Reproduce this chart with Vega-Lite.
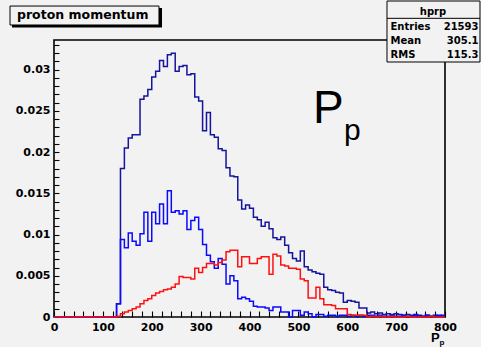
{
  "$schema": "https://vega.github.io/schema/vega-lite/v6.json",
  "width": 391,
  "height": 277,
  "autosize": "none",
  "padding": {"left": 54, "top": 40, "right": 36, "bottom": 30},
  "background": "#f2f2f2",
  "config": {
    "view": {"stroke": "#000000", "strokeWidth": 1.6, "fill": "#f2f2f2"},
    "axis": {"grid": false, "domain": false, "labelOverlap": false, "labelFlush": false, "title": null, "ticks": true, "tickColor": "#000000", "tickWidth": 1.1, "labelFont": "DejaVu Sans", "labelFontWeight": "bold", "labelFontSize": 11, "labelColor": "#000000"},
    "axisX": {"tickSize": -6, "labelPadding": 10},
    "axisY": {"tickSize": -5, "labelPadding": 9}
  },
  "data": {
    "values": [
      {"p": 0, "B": 0, "S": 0, "R": 0},
      {"p": 8, "B": 0, "S": 0, "R": 0},
      {"p": 16, "B": 0, "S": 0, "R": 0},
      {"p": 24, "B": 0, "S": 0, "R": 0},
      {"p": 32, "B": 0, "S": 0, "R": 0},
      {"p": 40, "B": 0, "S": 0, "R": 0},
      {"p": 48, "B": 0, "S": 0, "R": 0},
      {"p": 56, "B": 0, "S": 0, "R": 0},
      {"p": 64, "B": 0, "S": 0, "R": 0},
      {"p": 72, "B": 0, "S": 0, "R": 0},
      {"p": 80, "B": 0, "S": 0, "R": 0},
      {"p": 88, "B": 0, "S": 0, "R": 0},
      {"p": 96, "B": 0, "S": 0, "R": 0},
      {"p": 104, "B": 0, "S": 0, "R": 0},
      {"p": 112, "B": 0, "S": 0, "R": 0},
      {"p": 120, "B": 0, "S": 0, "R": 0},
      {"p": 128, "B": 0.0016, "S": 0.0016, "R": 0.0001},
      {"p": 136, "B": 0.0180, "S": 0.0094, "R": 0.0004},
      {"p": 144, "B": 0.0205, "S": 0.0084, "R": 0.0006},
      {"p": 152, "B": 0.0217, "S": 0.0102, "R": 0.0008},
      {"p": 160, "B": 0.0221, "S": 0.0092, "R": 0.0010},
      {"p": 168, "B": 0.0221, "S": 0.0087, "R": 0.0012},
      {"p": 176, "B": 0.0264, "S": 0.0101, "R": 0.0016},
      {"p": 184, "B": 0.0268, "S": 0.0127, "R": 0.0020},
      {"p": 192, "B": 0.0276, "S": 0.0092, "R": 0.0022},
      {"p": 200, "B": 0.0291, "S": 0.0127, "R": 0.0026},
      {"p": 208, "B": 0.0298, "S": 0.0113, "R": 0.0029},
      {"p": 216, "B": 0.0311, "S": 0.0137, "R": 0.0031},
      {"p": 224, "B": 0.0304, "S": 0.0113, "R": 0.0033},
      {"p": 232, "B": 0.0318, "S": 0.0153, "R": 0.0034},
      {"p": 240, "B": 0.0320, "S": 0.0127, "R": 0.0036},
      {"p": 248, "B": 0.0298, "S": 0.0129, "R": 0.0040},
      {"p": 256, "B": 0.0304, "S": 0.0125, "R": 0.0049},
      {"p": 264, "B": 0.0305, "S": 0.0129, "R": 0.0048},
      {"p": 272, "B": 0.0294, "S": 0.0106, "R": 0.0048},
      {"p": 280, "B": 0.0295, "S": 0.0117, "R": 0.0046},
      {"p": 288, "B": 0.0267, "S": 0.0121, "R": 0.0059},
      {"p": 296, "B": 0.0262, "S": 0.0106, "R": 0.0054},
      {"p": 304, "B": 0.0226, "S": 0.0088, "R": 0.0060},
      {"p": 312, "B": 0.0248, "S": 0.0075, "R": 0.0065},
      {"p": 320, "B": 0.0221, "S": 0.0067, "R": 0.0065},
      {"p": 328, "B": 0.0218, "S": 0.0059, "R": 0.0063},
      {"p": 336, "B": 0.0204, "S": 0.0071, "R": 0.0066},
      {"p": 344, "B": 0.0202, "S": 0.0064, "R": 0.0069},
      {"p": 352, "B": 0.0181, "S": 0.0040, "R": 0.0079},
      {"p": 360, "B": 0.0171, "S": 0.0050, "R": 0.0081},
      {"p": 368, "B": 0.0170, "S": 0.0044, "R": 0.0081},
      {"p": 376, "B": 0.0142, "S": 0.0022, "R": 0.0061},
      {"p": 384, "B": 0.0131, "S": 0.0024, "R": 0.0073},
      {"p": 392, "B": 0.0136, "S": 0.0022, "R": 0.0073},
      {"p": 400, "B": 0.0132, "S": 0.0019, "R": 0.0065},
      {"p": 408, "B": 0.0121, "S": 0.0013, "R": 0.0065},
      {"p": 416, "B": 0.0118, "S": 0.0012, "R": 0.0071},
      {"p": 424, "B": 0.0110, "S": 0.0012, "R": 0.0073},
      {"p": 432, "B": 0.0115, "S": 0.0011, "R": 0.0073},
      {"p": 440, "B": 0.0107, "S": 0.0008, "R": 0.0052},
      {"p": 448, "B": 0.0096, "S": 0.0012, "R": 0.0076},
      {"p": 456, "B": 0.0094, "S": 0.0012, "R": 0.0074},
      {"p": 464, "B": 0.0097, "S": 0.0006, "R": 0.0063},
      {"p": 472, "B": 0.0087, "S": 0.0006, "R": 0.0062},
      {"p": 480, "B": 0.0078, "S": 0.0000, "R": 0.0059},
      {"p": 488, "B": 0.0071, "S": 0.0008, "R": 0.0059},
      {"p": 496, "B": 0.0068, "S": 0.0008, "R": 0.0058},
      {"p": 504, "B": 0.0080, "S": 0.0002, "R": 0.0046},
      {"p": 512, "B": 0.0061, "S": 0.0006, "R": 0.0044},
      {"p": 520, "B": 0.0057, "S": 0.0004, "R": 0.0023},
      {"p": 528, "B": 0.0055, "S": 0.0000, "R": 0.0023},
      {"p": 536, "B": 0.0053, "S": 0.0003, "R": 0.0036},
      {"p": 544, "B": 0.0052, "S": 0.0003, "R": 0.0022},
      {"p": 552, "B": 0.0036, "S": 0.0001, "R": 0.0015},
      {"p": 560, "B": 0.0033, "S": 0.0002, "R": 0.0015},
      {"p": 568, "B": 0.0032, "S": 0.0002, "R": 0.0014},
      {"p": 576, "B": 0.0030, "S": 0.0001, "R": 0.0010},
      {"p": 584, "B": 0.0029, "S": 0.0002, "R": 0.0010},
      {"p": 592, "B": 0.0018, "S": 0.0002, "R": 0.0010},
      {"p": 600, "B": 0.0020, "S": 0.0001, "R": 0.0003},
      {"p": 608, "B": 0.0019, "S": 0.0002, "R": 0.0002},
      {"p": 616, "B": 0.0018, "S": 0.0001, "R": 0.0002},
      {"p": 624, "B": 0.0011, "S": 0.0002, "R": 0.0002},
      {"p": 632, "B": 0.0011, "S": 0.0001, "R": 0.0002},
      {"p": 640, "B": 0.0005, "S": 0.0002, "R": 0.0000},
      {"p": 648, "B": 0.0006, "S": 0.0002, "R": 0.0001},
      {"p": 656, "B": 0.0004, "S": 0.0001, "R": 0.0000},
      {"p": 664, "B": 0.0005, "S": 0.0002, "R": 0.0001},
      {"p": 672, "B": 0.0003, "S": 0.0001, "R": 0},
      {"p": 680, "B": 0.0004, "S": 0.0001, "R": 0},
      {"p": 688, "B": 0.0003, "S": 0.0002, "R": 0.0001},
      {"p": 696, "B": 0.0004, "S": 0.0001, "R": 0},
      {"p": 704, "B": 0.0003, "S": 0.0001, "R": 0},
      {"p": 712, "B": 0.0002, "S": 0.0002, "R": 0},
      {"p": 720, "B": 0.0003, "S": 0.0001, "R": 0.0001},
      {"p": 728, "B": 0.0002, "S": 0.0001, "R": 0},
      {"p": 736, "B": 0.0003, "S": 0.0002, "R": 0},
      {"p": 744, "B": 0.0002, "S": 0.0001, "R": 0},
      {"p": 752, "B": 0.0001, "S": 0.0001, "R": 0},
      {"p": 760, "B": 0.0002, "S": 0.0002, "R": 0},
      {"p": 768, "B": 0.0001, "S": 0.0001, "R": 0.0001},
      {"p": 776, "B": 0.0002, "S": 0.0001, "R": 0},
      {"p": 784, "B": 0.0001, "S": 0.0002, "R": 0},
      {"p": 792, "B": 0.0002, "S": 0.0001, "R": 0},
      {"p": 800, "B": 0.0002, "S": 0.0001, "R": 0}
    ]
  },
  "layer": [
    {
      "mark": {"type": "line", "interpolate": "step-after", "strokeWidth": 1.5, "color": "#14149c"},
      "encoding": {
        "x": {"field": "p", "type": "quantitative", "scale": {"domain": [0, 800], "nice": false, "zero": false}, "axis": {"values": [0, 20, 40, 60, 80, 100, 120, 140, 160, 180, 200, 220, 240, 260, 280, 300, 320, 340, 360, 380, 400, 420, 440, 460, 480, 500, 520, 540, 560, 580, 600, 620, 640, 660, 680, 700, 720, 740, 760, 780, 800], "format": "d", "labelExpr": "datum.value % 100 === 0 ? datum.label : ''"}},
        "y": {"field": "B", "type": "quantitative", "scale": {"domain": [0, 0.0336], "nice": false, "zero": false}, "axis": {"values": [0, 0.001, 0.002, 0.003, 0.004, 0.005, 0.006, 0.007, 0.008, 0.009, 0.01, 0.011, 0.012, 0.013, 0.014, 0.015, 0.016, 0.017, 0.018, 0.019, 0.02, 0.021, 0.022, 0.023, 0.024, 0.025, 0.026, 0.027, 0.028, 0.029, 0.03, 0.031, 0.032, 0.033], "format": "~g", "labelExpr": "round(datum.value * 1000) % 5 === 0 ? datum.label : ''"}}
      }
    },
    {
      "mark": {"type": "line", "interpolate": "step-after", "strokeWidth": 1.5, "color": "#0a0aff"},
      "encoding": {
        "x": {"field": "p", "type": "quantitative", "axis": {"values": [0, 20, 40, 60, 80, 100, 120, 140, 160, 180, 200, 220, 240, 260, 280, 300, 320, 340, 360, 380, 400, 420, 440, 460, 480, 500, 520, 540, 560, 580, 600, 620, 640, 660, 680, 700, 720, 740, 760, 780, 800], "format": "d", "labelExpr": "datum.value % 100 === 0 ? datum.label : ''"}},
        "y": {"field": "S", "type": "quantitative", "axis": {"values": [0, 0.001, 0.002, 0.003, 0.004, 0.005, 0.006, 0.007, 0.008, 0.009, 0.01, 0.011, 0.012, 0.013, 0.014, 0.015, 0.016, 0.017, 0.018, 0.019, 0.02, 0.021, 0.022, 0.023, 0.024, 0.025, 0.026, 0.027, 0.028, 0.029, 0.03, 0.031, 0.032, 0.033], "format": "~g", "labelExpr": "round(datum.value * 1000) % 5 === 0 ? datum.label : ''"}}
      }
    },
    {
      "mark": {"type": "line", "interpolate": "step-after", "strokeWidth": 1.5, "color": "#ff1010"},
      "encoding": {
        "x": {"field": "p", "type": "quantitative", "axis": {"values": [0, 20, 40, 60, 80, 100, 120, 140, 160, 180, 200, 220, 240, 260, 280, 300, 320, 340, 360, 380, 400, 420, 440, 460, 480, 500, 520, 540, 560, 580, 600, 620, 640, 660, 680, 700, 720, 740, 760, 780, 800], "format": "d", "labelExpr": "datum.value % 100 === 0 ? datum.label : ''"}},
        "y": {"field": "R", "type": "quantitative", "axis": {"values": [0, 0.001, 0.002, 0.003, 0.004, 0.005, 0.006, 0.007, 0.008, 0.009, 0.01, 0.011, 0.012, 0.013, 0.014, 0.015, 0.016, 0.017, 0.018, 0.019, 0.02, 0.021, 0.022, 0.023, 0.024, 0.025, 0.026, 0.027, 0.028, 0.029, 0.03, 0.031, 0.032, 0.033], "format": "~g", "labelExpr": "round(datum.value * 1000) % 5 === 0 ? datum.label : ''"}}
      }
    },
    {
      "data": {"values": [{}]},
      "mark": {"type": "text", "text": "P", "align": "left", "baseline": "alphabetic", "font": "Liberation Sans", "fontSize": 46, "color": "#000000"},
      "encoding": {
        "x": {"datum": 529.9, "type": "quantitative", "axis": {"values": [0, 20, 40, 60, 80, 100, 120, 140, 160, 180, 200, 220, 240, 260, 280, 300, 320, 340, 360, 380, 400, 420, 440, 460, 480, 500, 520, 540, 560, 580, 600, 620, 640, 660, 680, 700, 720, 740, 760, 780, 800], "format": "d", "labelExpr": "datum.value % 100 === 0 ? datum.label : ''"}},
        "y": {"datum": 0.02357, "type": "quantitative", "axis": {"values": [0, 0.001, 0.002, 0.003, 0.004, 0.005, 0.006, 0.007, 0.008, 0.009, 0.01, 0.011, 0.012, 0.013, 0.014, 0.015, 0.016, 0.017, 0.018, 0.019, 0.02, 0.021, 0.022, 0.023, 0.024, 0.025, 0.026, 0.027, 0.028, 0.029, 0.03, 0.031, 0.032, 0.033], "format": "~g", "labelExpr": "round(datum.value * 1000) % 5 === 0 ? datum.label : ''"}}
      }
    },
    {
      "data": {"values": [{}]},
      "mark": {"type": "text", "text": "p", "align": "left", "baseline": "alphabetic", "font": "Liberation Sans", "fontSize": 30, "color": "#000000"},
      "encoding": {
        "x": {"datum": 593.4, "type": "quantitative", "axis": {"values": [0, 20, 40, 60, 80, 100, 120, 140, 160, 180, 200, 220, 240, 260, 280, 300, 320, 340, 360, 380, 400, 420, 440, 460, 480, 500, 520, 540, 560, 580, 600, 620, 640, 660, 680, 700, 720, 740, 760, 780, 800], "format": "d", "labelExpr": "datum.value % 100 === 0 ? datum.label : ''"}},
        "y": {"datum": 0.02147, "type": "quantitative", "axis": {"values": [0, 0.001, 0.002, 0.003, 0.004, 0.005, 0.006, 0.007, 0.008, 0.009, 0.01, 0.011, 0.012, 0.013, 0.014, 0.015, 0.016, 0.017, 0.018, 0.019, 0.02, 0.021, 0.022, 0.023, 0.024, 0.025, 0.026, 0.027, 0.028, 0.029, 0.03, 0.031, 0.032, 0.033], "format": "~g", "labelExpr": "round(datum.value * 1000) % 5 === 0 ? datum.label : ''"}}
      }
    },
    {
      "data": {"values": [{}]},
      "mark": {"type": "text", "text": "P", "align": "left", "baseline": "alphabetic", "font": "Liberation Sans", "fontWeight": "bold", "fontSize": 13, "color": "#000000"},
      "encoding": {
        "x": {"datum": 771.4, "type": "quantitative", "axis": {"values": [0, 20, 40, 60, 80, 100, 120, 140, 160, 180, 200, 220, 240, 260, 280, 300, 320, 340, 360, 380, 400, 420, 440, 460, 480, 500, 520, 540, 560, 580, 600, 620, 640, 660, 680, 700, 720, 740, 760, 780, 800], "format": "d", "labelExpr": "datum.value % 100 === 0 ? datum.label : ''"}},
        "y": {"datum": -0.00308, "type": "quantitative", "axis": {"values": [0, 0.001, 0.002, 0.003, 0.004, 0.005, 0.006, 0.007, 0.008, 0.009, 0.01, 0.011, 0.012, 0.013, 0.014, 0.015, 0.016, 0.017, 0.018, 0.019, 0.02, 0.021, 0.022, 0.023, 0.024, 0.025, 0.026, 0.027, 0.028, 0.029, 0.03, 0.031, 0.032, 0.033], "format": "~g", "labelExpr": "round(datum.value * 1000) % 5 === 0 ? datum.label : ''"}}
      }
    },
    {
      "data": {"values": [{}]},
      "mark": {"type": "text", "text": "p", "align": "left", "baseline": "alphabetic", "font": "Liberation Sans", "fontWeight": "bold", "fontSize": 8, "color": "#000000"},
      "encoding": {
        "x": {"datum": 788.8, "type": "quantitative", "axis": {"values": [0, 20, 40, 60, 80, 100, 120, 140, 160, 180, 200, 220, 240, 260, 280, 300, 320, 340, 360, 380, 400, 420, 440, 460, 480, 500, 520, 540, 560, 580, 600, 620, 640, 660, 680, 700, 720, 740, 760, 780, 800], "format": "d", "labelExpr": "datum.value % 100 === 0 ? datum.label : ''"}},
        "y": {"datum": -0.0034, "type": "quantitative", "axis": {"values": [0, 0.001, 0.002, 0.003, 0.004, 0.005, 0.006, 0.007, 0.008, 0.009, 0.01, 0.011, 0.012, 0.013, 0.014, 0.015, 0.016, 0.017, 0.018, 0.019, 0.02, 0.021, 0.022, 0.023, 0.024, 0.025, 0.026, 0.027, 0.028, 0.029, 0.03, 0.031, 0.032, 0.033], "format": "~g", "labelExpr": "round(datum.value * 1000) % 5 === 0 ? datum.label : ''"}}
      }
    },
    {
      "data": {"values": [{}]},
      "mark": {"type": "rect", "fill": "#000000"},
      "encoding": {
        "x": {"datum": -85.9, "type": "quantitative", "axis": {"values": [0, 20, 40, 60, 80, 100, 120, 140, 160, 180, 200, 220, 240, 260, 280, 300, 320, 340, 360, 380, 400, 420, 440, 460, 480, 500, 520, 540, 560, 580, 600, 620, 640, 660, 680, 700, 720, 740, 760, 780, 800], "format": "d", "labelExpr": "datum.value % 100 === 0 ? datum.label : ''"}},
        "x2": {"datum": 221.0},
        "y": {"datum": 0.03748, "type": "quantitative", "axis": {"values": [0, 0.001, 0.002, 0.003, 0.004, 0.005, 0.006, 0.007, 0.008, 0.009, 0.01, 0.011, 0.012, 0.013, 0.014, 0.015, 0.016, 0.017, 0.018, 0.019, 0.02, 0.021, 0.022, 0.023, 0.024, 0.025, 0.026, 0.027, 0.028, 0.029, 0.03, 0.031, 0.032, 0.033], "format": "~g", "labelExpr": "round(datum.value * 1000) % 5 === 0 ? datum.label : ''"}},
        "y2": {"datum": 0.03512}
      }
    },
    {
      "data": {"values": [{}]},
      "mark": {"type": "rect", "fill": "#f2f2f2", "stroke": "#000000", "strokeWidth": 1},
      "encoding": {
        "x": {"datum": -90.0, "type": "quantitative", "axis": {"values": [0, 20, 40, 60, 80, 100, 120, 140, 160, 180, 200, 220, 240, 260, 280, 300, 320, 340, 360, 380, 400, 420, 440, 460, 480, 500, 520, 540, 560, 580, 600, 620, 640, 660, 680, 700, 720, 740, 760, 780, 800], "format": "d", "labelExpr": "datum.value % 100 === 0 ? datum.label : ''"}},
        "x2": {"datum": 214.8},
        "y": {"datum": 0.03772, "type": "quantitative", "axis": {"values": [0, 0.001, 0.002, 0.003, 0.004, 0.005, 0.006, 0.007, 0.008, 0.009, 0.01, 0.011, 0.012, 0.013, 0.014, 0.015, 0.016, 0.017, 0.018, 0.019, 0.02, 0.021, 0.022, 0.023, 0.024, 0.025, 0.026, 0.027, 0.028, 0.029, 0.03, 0.031, 0.032, 0.033], "format": "~g", "labelExpr": "round(datum.value * 1000) % 5 === 0 ? datum.label : ''"}},
        "y2": {"datum": 0.03542}
      }
    },
    {
      "data": {"values": [{}]},
      "mark": {"type": "text", "text": "proton momentum", "align": "left", "baseline": "alphabetic", "font": "DejaVu Sans", "fontWeight": "bold", "fontSize": 12.5, "color": "#000000"},
      "encoding": {
        "x": {"datum": -75.7, "type": "quantitative", "axis": {"values": [0, 20, 40, 60, 80, 100, 120, 140, 160, 180, 200, 220, 240, 260, 280, 300, 320, 340, 360, 380, 400, 420, 440, 460, 480, 500, 520, 540, 560, 580, 600, 620, 640, 660, 680, 700, 720, 740, 760, 780, 800], "format": "d", "labelExpr": "datum.value % 100 === 0 ? datum.label : ''"}},
        "y": {"datum": 0.03609, "type": "quantitative", "axis": {"values": [0, 0.001, 0.002, 0.003, 0.004, 0.005, 0.006, 0.007, 0.008, 0.009, 0.01, 0.011, 0.012, 0.013, 0.014, 0.015, 0.016, 0.017, 0.018, 0.019, 0.02, 0.021, 0.022, 0.023, 0.024, 0.025, 0.026, 0.027, 0.028, 0.029, 0.03, 0.031, 0.032, 0.033], "format": "~g", "labelExpr": "round(datum.value * 1000) % 5 === 0 ? datum.label : ''"}}
      }
    },
    {
      "data": {"values": [{}]},
      "mark": {"type": "rect", "fill": "#f2f2f2", "stroke": "#000000", "strokeWidth": 1},
      "encoding": {
        "x": {"datum": 681.3, "type": "quantitative", "axis": {"values": [0, 20, 40, 60, 80, 100, 120, 140, 160, 180, 200, 220, 240, 260, 280, 300, 320, 340, 360, 380, 400, 420, 440, 460, 480, 500, 520, 540, 560, 580, 600, 620, 640, 660, 680, 700, 720, 740, 760, 780, 800], "format": "d", "labelExpr": "datum.value % 100 === 0 ? datum.label : ''"}},
        "x2": {"datum": 871.6},
        "y": {"datum": 0.03833, "type": "quantitative", "axis": {"values": [0, 0.001, 0.002, 0.003, 0.004, 0.005, 0.006, 0.007, 0.008, 0.009, 0.01, 0.011, 0.012, 0.013, 0.014, 0.015, 0.016, 0.017, 0.018, 0.019, 0.02, 0.021, 0.022, 0.023, 0.024, 0.025, 0.026, 0.027, 0.028, 0.029, 0.03, 0.031, 0.032, 0.033], "format": "~g", "labelExpr": "round(datum.value * 1000) % 5 === 0 ? datum.label : ''"}},
        "y2": {"datum": 0.03093}
      }
    },
    {
      "data": {"values": [{}]},
      "mark": {"type": "rule", "stroke": "#000000", "strokeWidth": 1},
      "encoding": {
        "x": {"datum": 681.3, "type": "quantitative", "axis": {"values": [0, 20, 40, 60, 80, 100, 120, 140, 160, 180, 200, 220, 240, 260, 280, 300, 320, 340, 360, 380, 400, 420, 440, 460, 480, 500, 520, 540, 560, 580, 600, 620, 640, 660, 680, 700, 720, 740, 760, 780, 800], "format": "d", "labelExpr": "datum.value % 100 === 0 ? datum.label : ''"}},
        "x2": {"datum": 871.6},
        "y": {"datum": 0.03623, "type": "quantitative", "axis": {"values": [0, 0.001, 0.002, 0.003, 0.004, 0.005, 0.006, 0.007, 0.008, 0.009, 0.01, 0.011, 0.012, 0.013, 0.014, 0.015, 0.016, 0.017, 0.018, 0.019, 0.02, 0.021, 0.022, 0.023, 0.024, 0.025, 0.026, 0.027, 0.028, 0.029, 0.03, 0.031, 0.032, 0.033], "format": "~g", "labelExpr": "round(datum.value * 1000) % 5 === 0 ? datum.label : ''"}}
      }
    },
    {
      "data": {"values": [{}]},
      "mark": {"type": "text", "text": "hprp", "align": "center", "baseline": "alphabetic", "font": "DejaVu Sans", "fontWeight": "bold", "fontSize": 10, "color": "#000000"},
      "encoding": {
        "x": {"datum": 775.5, "type": "quantitative", "axis": {"values": [0, 20, 40, 60, 80, 100, 120, 140, 160, 180, 200, 220, 240, 260, 280, 300, 320, 340, 360, 380, 400, 420, 440, 460, 480, 500, 520, 540, 560, 580, 600, 620, 640, 660, 680, 700, 720, 740, 760, 780, 800], "format": "d", "labelExpr": "datum.value % 100 === 0 ? datum.label : ''"}},
        "y": {"datum": 0.03669, "type": "quantitative", "axis": {"values": [0, 0.001, 0.002, 0.003, 0.004, 0.005, 0.006, 0.007, 0.008, 0.009, 0.01, 0.011, 0.012, 0.013, 0.014, 0.015, 0.016, 0.017, 0.018, 0.019, 0.02, 0.021, 0.022, 0.023, 0.024, 0.025, 0.026, 0.027, 0.028, 0.029, 0.03, 0.031, 0.032, 0.033], "format": "~g", "labelExpr": "round(datum.value * 1000) % 5 === 0 ? datum.label : ''"}}
      }
    },
    {
      "data": {"values": [{}]},
      "mark": {"type": "text", "text": "Entries", "align": "left", "baseline": "alphabetic", "font": "DejaVu Sans", "fontWeight": "bold", "fontSize": 10, "color": "#000000"},
      "encoding": {
        "x": {"datum": 688.5, "type": "quantitative", "axis": {"values": [0, 20, 40, 60, 80, 100, 120, 140, 160, 180, 200, 220, 240, 260, 280, 300, 320, 340, 360, 380, 400, 420, 440, 460, 480, 500, 520, 540, 560, 580, 600, 620, 640, 660, 680, 700, 720, 740, 760, 780, 800], "format": "d", "labelExpr": "datum.value % 100 === 0 ? datum.label : ''"}},
        "y": {"datum": 0.03481, "type": "quantitative", "axis": {"values": [0, 0.001, 0.002, 0.003, 0.004, 0.005, 0.006, 0.007, 0.008, 0.009, 0.01, 0.011, 0.012, 0.013, 0.014, 0.015, 0.016, 0.017, 0.018, 0.019, 0.02, 0.021, 0.022, 0.023, 0.024, 0.025, 0.026, 0.027, 0.028, 0.029, 0.03, 0.031, 0.032, 0.033], "format": "~g", "labelExpr": "round(datum.value * 1000) % 5 === 0 ? datum.label : ''"}}
      }
    },
    {
      "data": {"values": [{}]},
      "mark": {"type": "text", "text": "21593", "align": "right", "baseline": "alphabetic", "font": "DejaVu Sans", "fontWeight": "bold", "fontSize": 10, "color": "#000000"},
      "encoding": {
        "x": {"datum": 868.5, "type": "quantitative", "axis": {"values": [0, 20, 40, 60, 80, 100, 120, 140, 160, 180, 200, 220, 240, 260, 280, 300, 320, 340, 360, 380, 400, 420, 440, 460, 480, 500, 520, 540, 560, 580, 600, 620, 640, 660, 680, 700, 720, 740, 760, 780, 800], "format": "d", "labelExpr": "datum.value % 100 === 0 ? datum.label : ''"}},
        "y": {"datum": 0.03481, "type": "quantitative", "axis": {"values": [0, 0.001, 0.002, 0.003, 0.004, 0.005, 0.006, 0.007, 0.008, 0.009, 0.01, 0.011, 0.012, 0.013, 0.014, 0.015, 0.016, 0.017, 0.018, 0.019, 0.02, 0.021, 0.022, 0.023, 0.024, 0.025, 0.026, 0.027, 0.028, 0.029, 0.03, 0.031, 0.032, 0.033], "format": "~g", "labelExpr": "round(datum.value * 1000) % 5 === 0 ? datum.label : ''"}}
      }
    },
    {
      "data": {"values": [{}]},
      "mark": {"type": "text", "text": "Mean", "align": "left", "baseline": "alphabetic", "font": "DejaVu Sans", "fontWeight": "bold", "fontSize": 10, "color": "#000000"},
      "encoding": {
        "x": {"datum": 688.5, "type": "quantitative", "axis": {"values": [0, 20, 40, 60, 80, 100, 120, 140, 160, 180, 200, 220, 240, 260, 280, 300, 320, 340, 360, 380, 400, 420, 440, 460, 480, 500, 520, 540, 560, 580, 600, 620, 640, 660, 680, 700, 720, 740, 760, 780, 800], "format": "d", "labelExpr": "datum.value % 100 === 0 ? datum.label : ''"}},
        "y": {"datum": 0.03306, "type": "quantitative", "axis": {"values": [0, 0.001, 0.002, 0.003, 0.004, 0.005, 0.006, 0.007, 0.008, 0.009, 0.01, 0.011, 0.012, 0.013, 0.014, 0.015, 0.016, 0.017, 0.018, 0.019, 0.02, 0.021, 0.022, 0.023, 0.024, 0.025, 0.026, 0.027, 0.028, 0.029, 0.03, 0.031, 0.032, 0.033], "format": "~g", "labelExpr": "round(datum.value * 1000) % 5 === 0 ? datum.label : ''"}}
      }
    },
    {
      "data": {"values": [{}]},
      "mark": {"type": "text", "text": "305.1", "align": "right", "baseline": "alphabetic", "font": "DejaVu Sans", "fontWeight": "bold", "fontSize": 10, "color": "#000000"},
      "encoding": {
        "x": {"datum": 868.5, "type": "quantitative", "axis": {"values": [0, 20, 40, 60, 80, 100, 120, 140, 160, 180, 200, 220, 240, 260, 280, 300, 320, 340, 360, 380, 400, 420, 440, 460, 480, 500, 520, 540, 560, 580, 600, 620, 640, 660, 680, 700, 720, 740, 760, 780, 800], "format": "d", "labelExpr": "datum.value % 100 === 0 ? datum.label : ''"}},
        "y": {"datum": 0.03306, "type": "quantitative", "axis": {"values": [0, 0.001, 0.002, 0.003, 0.004, 0.005, 0.006, 0.007, 0.008, 0.009, 0.01, 0.011, 0.012, 0.013, 0.014, 0.015, 0.016, 0.017, 0.018, 0.019, 0.02, 0.021, 0.022, 0.023, 0.024, 0.025, 0.026, 0.027, 0.028, 0.029, 0.03, 0.031, 0.032, 0.033], "format": "~g", "labelExpr": "round(datum.value * 1000) % 5 === 0 ? datum.label : ''"}}
      }
    },
    {
      "data": {"values": [{}]},
      "mark": {"type": "text", "text": "RMS", "align": "left", "baseline": "alphabetic", "font": "DejaVu Sans", "fontWeight": "bold", "fontSize": 10, "color": "#000000"},
      "encoding": {
        "x": {"datum": 688.5, "type": "quantitative", "axis": {"values": [0, 20, 40, 60, 80, 100, 120, 140, 160, 180, 200, 220, 240, 260, 280, 300, 320, 340, 360, 380, 400, 420, 440, 460, 480, 500, 520, 540, 560, 580, 600, 620, 640, 660, 680, 700, 720, 740, 760, 780, 800], "format": "d", "labelExpr": "datum.value % 100 === 0 ? datum.label : ''"}},
        "y": {"datum": 0.03136, "type": "quantitative", "axis": {"values": [0, 0.001, 0.002, 0.003, 0.004, 0.005, 0.006, 0.007, 0.008, 0.009, 0.01, 0.011, 0.012, 0.013, 0.014, 0.015, 0.016, 0.017, 0.018, 0.019, 0.02, 0.021, 0.022, 0.023, 0.024, 0.025, 0.026, 0.027, 0.028, 0.029, 0.03, 0.031, 0.032, 0.033], "format": "~g", "labelExpr": "round(datum.value * 1000) % 5 === 0 ? datum.label : ''"}}
      }
    },
    {
      "data": {"values": [{}]},
      "mark": {"type": "text", "text": "115.3", "align": "right", "baseline": "alphabetic", "font": "DejaVu Sans", "fontWeight": "bold", "fontSize": 10, "color": "#000000"},
      "encoding": {
        "x": {"datum": 868.5, "type": "quantitative", "axis": {"values": [0, 20, 40, 60, 80, 100, 120, 140, 160, 180, 200, 220, 240, 260, 280, 300, 320, 340, 360, 380, 400, 420, 440, 460, 480, 500, 520, 540, 560, 580, 600, 620, 640, 660, 680, 700, 720, 740, 760, 780, 800], "format": "d", "labelExpr": "datum.value % 100 === 0 ? datum.label : ''"}},
        "y": {"datum": 0.03136, "type": "quantitative", "axis": {"values": [0, 0.001, 0.002, 0.003, 0.004, 0.005, 0.006, 0.007, 0.008, 0.009, 0.01, 0.011, 0.012, 0.013, 0.014, 0.015, 0.016, 0.017, 0.018, 0.019, 0.02, 0.021, 0.022, 0.023, 0.024, 0.025, 0.026, 0.027, 0.028, 0.029, 0.03, 0.031, 0.032, 0.033], "format": "~g", "labelExpr": "round(datum.value * 1000) % 5 === 0 ? datum.label : ''"}}
      }
    }
  ]
}
